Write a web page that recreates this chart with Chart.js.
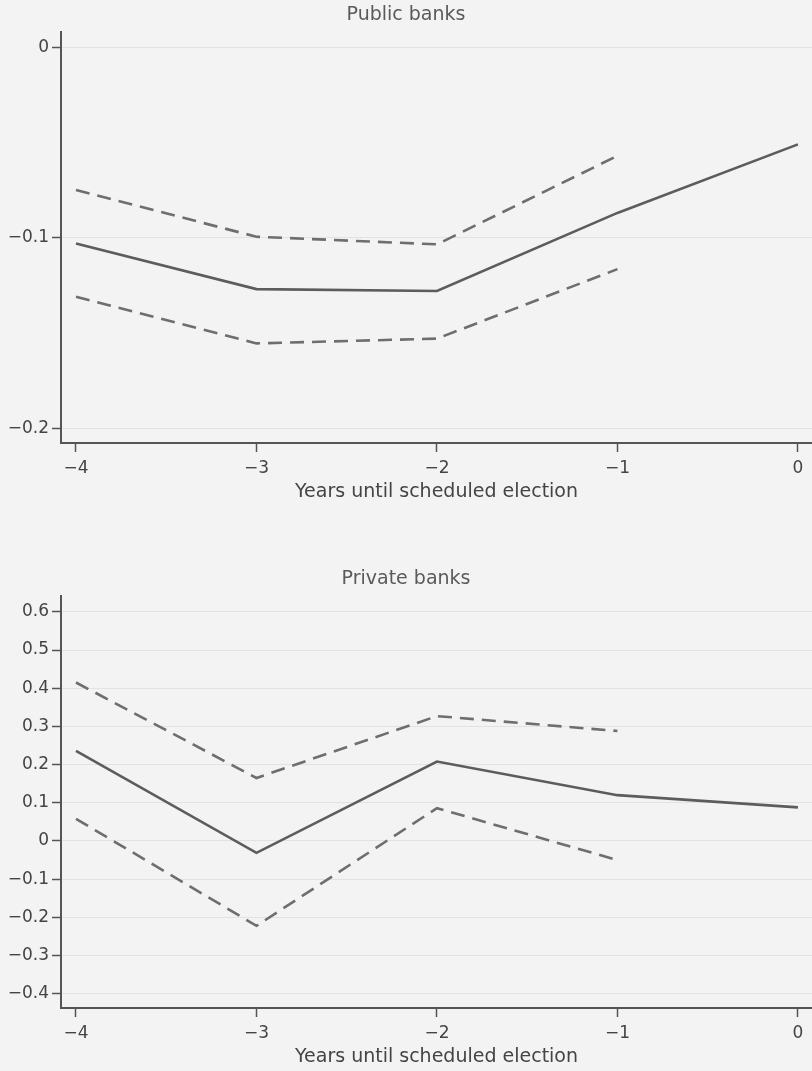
<!DOCTYPE html>
<html>
<head>
<meta charset="utf-8">
<script src="https://cdn.jsdelivr.net/npm/chart.js@4/dist/chart.umd.min.js"></script>
<style>
  html, body { margin: 0; padding: 0; background: #f3f3f3; }
  body { width: 812px; height: 1071px; position: relative; overflow: hidden; }
  .wrap { position: absolute; left: 0; }
  canvas { display: block; }
</style>
</head>
<body>
<div class="wrap" style="top:0px"><canvas id="c1" width="812" height="510"></canvas></div>
<div class="wrap" style="top:560px"><canvas id="c2" width="812" height="511"></canvas></div>
<script>
// ---- data ----
const years = [-4, -3, -2, -1, 0];
const xTickLabels = ['\u22124', '\u22123', '\u22122', '\u22121', '0'];

const publicEstimate = [-0.103, -0.127, -0.128, -0.087, -0.051];
const publicUpper    = [-0.075, -0.0995, -0.1035, -0.057];
const publicLower    = [-0.131, -0.1555, -0.153, -0.1165];
const publicYTicks      = [0, -0.1, -0.2];
const publicYTickLabels = ['0', '\u22120.1', '\u22120.2'];

const privateEstimate = [0.236, -0.031, 0.208, 0.120, 0.088];
const privateUpper    = [0.415, 0.165, 0.327, 0.288];
const privateLower    = [0.058, -0.222, 0.086, -0.050];
const privateYTicks      = [0.6, 0.5, 0.4, 0.3, 0.2, 0.1, 0, -0.1, -0.2, -0.3, -0.4];
const privateYTickLabels = ['0.6', '0.5', '0.4', '0.3', '0.2', '0.1', '0', '\u22120.1', '\u22120.2', '\u22120.3', '\u22120.4'];

const xTitle = 'Years until scheduled election';

// ---- helpers ----
const pts = arr => arr.map((v, i) => ({ x: years[i], y: v }));
const FONT = "'DejaVu Sans', sans-serif";
const AXIS = '#555555';

function makeChart(id, cfg) {
  const solid = { data: pts(cfg.est), borderColor: '#5c5c5c', borderWidth: 2.6, pointRadius: 0, tension: 0, fill: false, borderJoinStyle: 'miter' };
  const dashU = { data: pts(cfg.up), borderColor: '#6e6e6e', borderWidth: 2.6, borderDash: [14, 8], pointRadius: 0, tension: 0, fill: false, borderCapStyle: 'butt' };
  const dashL = { data: pts(cfg.lo), borderColor: '#6e6e6e', borderWidth: 2.6, borderDash: [14, 8], pointRadius: 0, tension: 0, fill: false, borderCapStyle: 'butt' };
  return new Chart(document.getElementById(id), {
    type: 'line',
    data: { datasets: [dashU, solid, dashL] },
    options: {
      responsive: false,
      animation: false,
      devicePixelRatio: 1,
      layout: { padding: 0 },
      plugins: {
        legend: { display: false },
        tooltip: { enabled: false },
        title: {
          display: true, text: cfg.title, color: '#5a5a5a',
          font: { family: FONT, size: 19, weight: 'normal' },
          padding: cfg.titlePad
        }
      },
      scales: {
        x: {
          type: 'linear', min: -4.083, max: 0.078,
          afterBuildTicks: s => { s.ticks = years.map(v => ({ value: v })); },
          afterFit: s => { s.height = cfg.xHeight; s.paddingLeft = 0; s.paddingRight = 0; },
          ticks: {
            color: '#444', font: { family: FONT, size: 17 }, padding: 6, maxRotation: 0,
            callback: (v, i) => xTickLabels[i]
          },
          grid: { drawOnChartArea: false, drawTicks: true, tickLength: 9, tickColor: AXIS, tickWidth: 1.5 },
          border: { display: true, color: AXIS, width: 2 },
          title: {
            display: true, text: xTitle, color: '#444',
            font: { family: FONT, size: 19 }, padding: { top: 0, bottom: cfg.xTitlePadB }
          }
        },
        y: {
          type: 'linear', min: cfg.ymin, max: cfg.ymax,
          afterBuildTicks: s => { s.ticks = cfg.yTicks.map(v => ({ value: v })); },
          afterFit: s => { s.width = 61; s.paddingTop = 0; s.paddingBottom = 0; },
          ticks: {
            color: '#444', font: { family: FONT, size: 17 }, padding: 3,
            callback: (v, i) => cfg.yLabels[i]
          },
          grid: { color: '#e2e2e2', lineWidth: 1, drawTicks: true, tickLength: 9, tickColor: AXIS, tickWidth: 1.5 },
          border: { display: true, color: AXIS, width: 2 }
        }
      }
    }
  });
}

makeChart('c1', {
  title: 'Public banks', titlePad: { top: 4, bottom: 5.2 },
  est: publicEstimate, up: publicUpper, lo: publicLower,
  ymin: -0.2078, ymax: 0.008, yTicks: publicYTicks, yLabels: publicYTickLabels,
  xHeight: 67, xTitlePadB: 6.6
});

makeChart('c2', {
  title: 'Private banks', titlePad: { top: 7.6, bottom: 5.6 },
  est: privateEstimate, up: privateUpper, lo: privateLower,
  ymin: -0.4372, ymax: 0.6414, yTicks: privateYTicks, yLabels: privateYTickLabels,
  xHeight: 63, xTitlePadB: 2.6
});
</script>
</body>
</html>
